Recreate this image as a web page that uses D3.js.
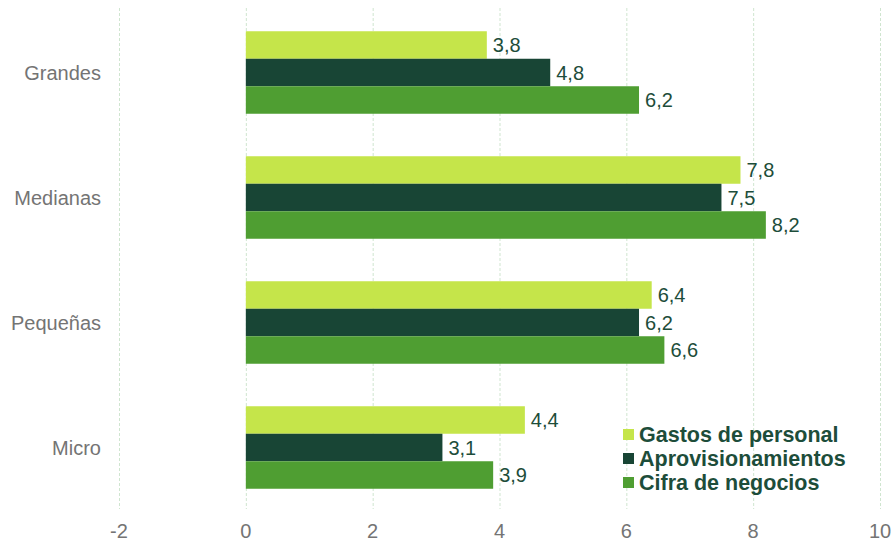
<!DOCTYPE html>
<html>
<head>
<meta charset="utf-8">
<script src="https://cdn.jsdelivr.net/npm/d3@7"></script>
<style>
  body { margin: 0; background: #fff; }
  text { font-family: "Liberation Sans", Arial, sans-serif; }
</style>
</head>
<body>
<script>
// Data
const categories = ["Grandes", "Medianas", "Pequeñas", "Micro"];
const seriesNames = ["Gastos de personal", "Aprovisionamientos", "Cifra de negocios"];
const gastosPersonal = [3.8, 7.8, 6.4, 4.4];
const aprovisionamientos = [4.8, 7.5, 6.2, 3.1];
const cifraNegocios = [6.2, 8.2, 6.6, 3.9];
const xTicks = [-2, 0, 2, 4, 6, 8, 10];

const colors = ["#c5e54a", "#184535", "#4f9e32"];
const seriesValues = [gastosPersonal, aprovisionamientos, cifraNegocios];

const width = 896, height = 542;
const svg = d3.select("body").append("svg")
    .attr("width", width)
    .attr("height", height);

const x = d3.scaleLinear().domain([-2, 10]).range([119, 880]);
const y = d3.scaleBand().domain(categories).range([10, 510]).paddingInner(0.34).paddingOuter(0.17);
const ySub = d3.scaleBand().domain(seriesNames).range([0, y.bandwidth()]);

// gridlines
svg.append("g").selectAll("line")
    .data(xTicks)
    .join("line")
    .attr("x1", d => x(d) + 0.5).attr("x2", d => x(d) + 0.5)
    .attr("y1", 8).attr("y2", 509)
    .attr("stroke", "#cfe5cf")
    .attr("stroke-dasharray", "3,2");

// x tick labels
svg.append("g").selectAll("text")
    .data(xTicks)
    .join("text")
    .attr("x", d => x(d))
    .attr("y", 538)
    .attr("text-anchor", "middle")
    .attr("font-size", 20)
    .attr("fill", "#747474")
    .text(d => d);

// category labels
svg.append("g").selectAll("text")
    .data(categories)
    .join("text")
    .attr("x", 101)
    .attr("y", d => y(d) + y.bandwidth() / 2 + 7)
    .attr("text-anchor", "end")
    .attr("font-size", 20)
    .attr("fill", "#747474")
    .text(d => d);

// bars
const rows = [];
categories.forEach((c, i) => {
    seriesNames.forEach((s, j) => {
        rows.push({cat: c, series: s, value: seriesValues[j][i], color: colors[j]});
    });
});

svg.append("g").selectAll("rect")
    .data(rows)
    .join("rect")
    .attr("x", x(0))
    .attr("y", d => y(d.cat) + ySub(d.series))
    .attr("width", d => x(d.value) - x(0))
    .attr("height", ySub.bandwidth())
    .attr("fill", d => d.color);

// value labels
svg.append("g").selectAll("text")
    .data(rows)
    .join("text")
    .attr("x", d => x(d.value) + 6)
    .attr("y", d => y(d.cat) + ySub(d.series) + ySub.bandwidth() / 2 + 7)
    .attr("font-size", 20)
    .attr("fill", "#1d4d3a")
    .text(d => d3.format(".1f")(d.value).replace(".", ","));

// legend
const legend = svg.append("g").attr("transform", "translate(623,426)");
seriesNames.forEach((s, i) => {
    const g = legend.append("g").attr("transform", `translate(0,${i * 24})`);
    g.append("rect").attr("width", 11).attr("height", 11).attr("y", 3).attr("fill", colors[i]);
    g.append("text")
        .attr("x", 16).attr("y", 16)
        .attr("font-size", 21.5)
        .attr("font-weight", "bold")
        .attr("fill", "#1d4d3a")
        .text(s);
});
</script>
</body>
</html>
